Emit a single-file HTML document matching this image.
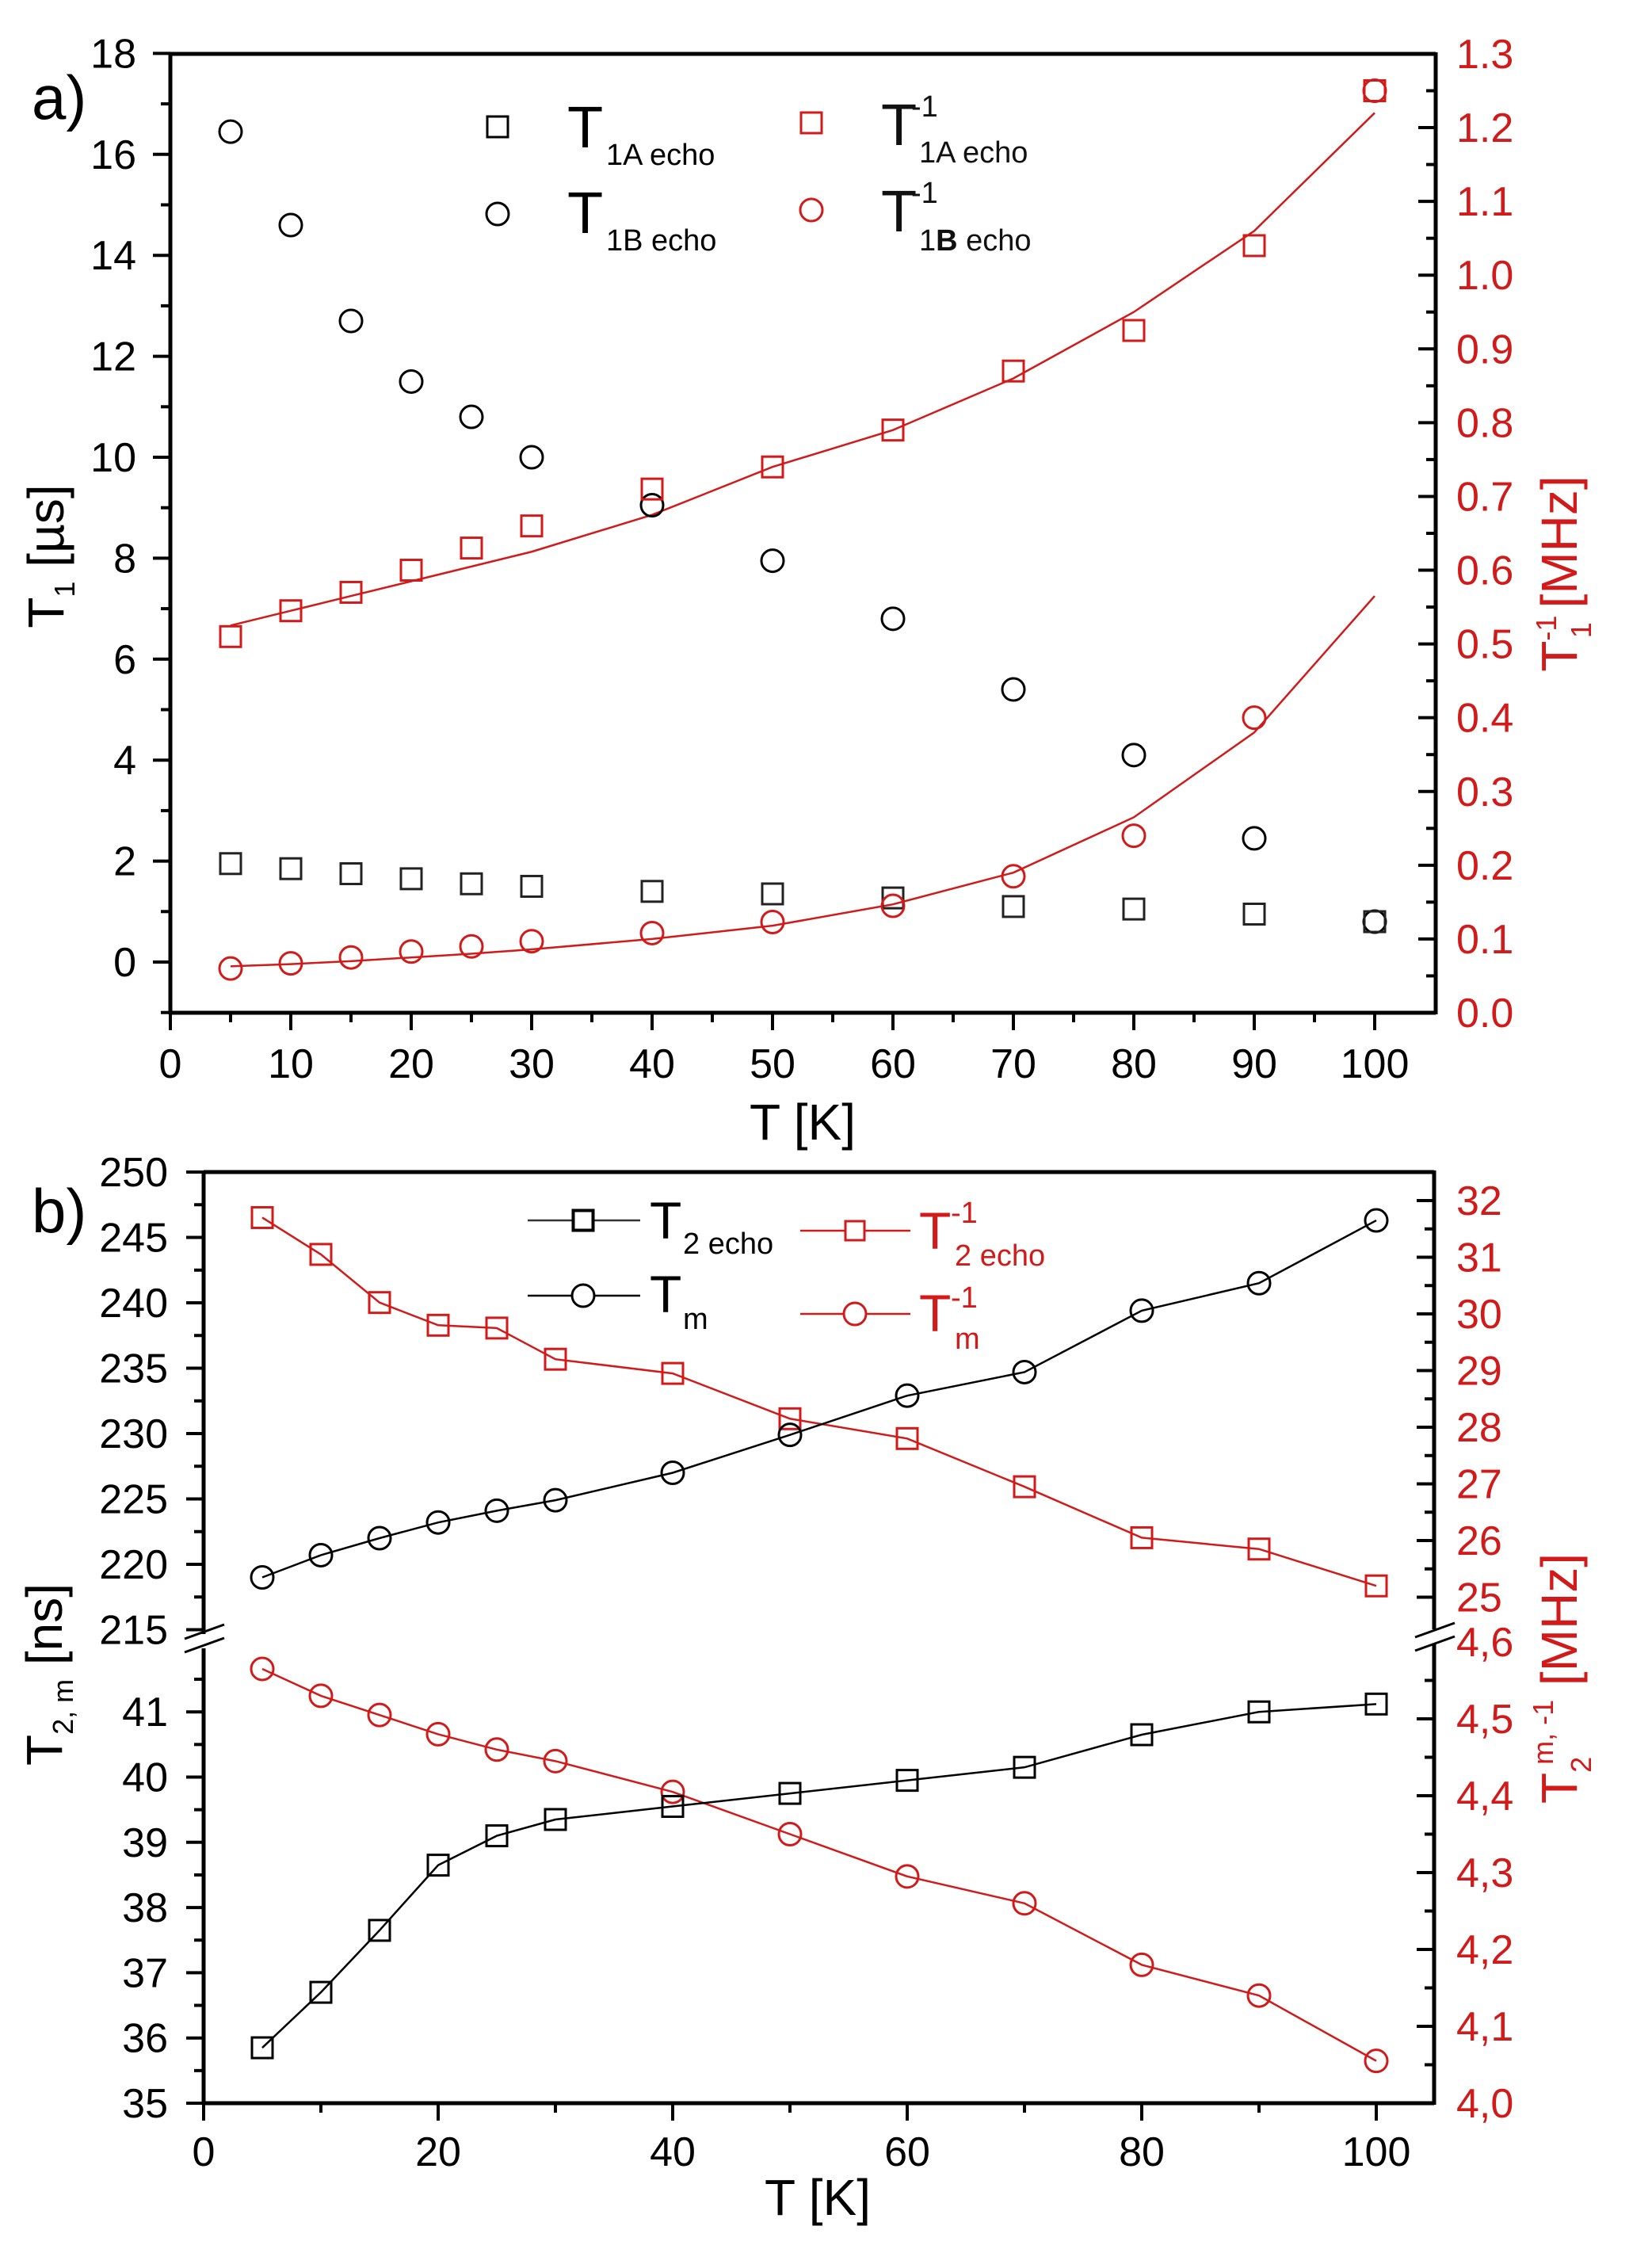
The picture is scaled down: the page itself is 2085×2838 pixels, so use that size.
<!DOCTYPE html>
<html><head><meta charset="utf-8">
<style>
html,body{margin:0;padding:0;background:#fff;}
svg{display:block;}
text{font-family:"Liberation Sans Narrow","Liberation Sans",sans-serif;}
</style></head>
<body>
<svg id="s" xmlns="http://www.w3.org/2000/svg" width="2085" height="2838" viewBox="0 0 2085 2838"></svg>
<script>
const S=document.getElementById('s');let h='';
const R='#d11a1a';
function line(x1,y1,x2,y2,c,w){h+=`<line x1="${x1}" y1="${y1}" x2="${x2}" y2="${y2}" stroke="${c}" stroke-width="${w}"/>`;}
function txt(x,y,t,sz,c,anc,extra){h+=`<text x="${x}" y="${y}" font-size="${sz}" fill="${c}" text-anchor="${anc||'start'}" ${extra||''}>${t}</text>`;}
function sq(x,y,c){h+=`<rect x="${x-13}" y="${y-13}" width="26" height="26" fill="none" stroke="${c}" stroke-width="3"/>`;}
function ci(x,y,c){h+=`<circle cx="${x}" cy="${y}" r="14" fill="none" stroke="${c}" stroke-width="3"/>`;}
function poly(pts,c){h+=`<polyline points="${pts.map(p=>p.join(',')).join(' ')}" fill="none" stroke="${c}" stroke-width="2.5"/>`;}

// ===== Panel a =====
const aL=215,aR=1812,aT=68,aB=1278;
const ax=t=>215+t*15.2;
const ayL=v=>1214-v*63.7;
const ayR=v=>1278-v*930.8;
// frame
line(aL,aT,aR,aT,'#000',5);line(aL,aB,aR,aB,'#000',5);
line(aL,aT-2,aL,aB+2,'#000',5);line(aR,aT-2,aR,aB+2,'#000',5);
// x ticks
for(let t=0;t<=100;t+=5){const x=ax(t);const maj=t%10==0;line(x,aB,x,aB+(maj?22:12),'#000',4);
 if(maj)txt(x,1360,t,52,'#000','middle');}
// left y ticks
for(let v=-1;v<=18;v++){const y=ayL(v);const maj=v%2==0;line(aL-(maj?22:12),y,aL,y,'#000',4);
 if(maj&&v>=0)txt(172,y+18,v,52,'#000','end');}
// right y ticks
for(let i=0;i<=26;i++){const v=i*0.05;const y=ayR(v);const maj=i%2==0;line(aR,y,aR-(maj?22:12),y,'#000',4);
 if(maj)txt(1838,y+18,(v).toFixed(1),52,R,'start');}
txt(40,150,'a)',78,'#000');
txt(1013,1438,'T [K]',64,'#000','middle');
h+=`<text transform="translate(80,702) rotate(-90)" font-size="64" text-anchor="middle" fill="#000">T<tspan font-size="36" dy="14">1</tspan><tspan dy="-14"> [µs]</tspan></text>`;
h+=`<text transform="translate(1990,724) rotate(-90)" font-size="64" text-anchor="middle" fill="${R}">T<tspan font-size="36" dy="-26">-1</tspan><tspan font-size="36" dx="-26" dy="44">1</tspan><tspan dy="-18"> [MHz]</tspan></text>`;
const T=[5,10,15,20,25,30,40,50,60,70,80,90,100];
const t1b=[16.45,14.6,12.7,11.5,10.8,10.0,9.05,7.95,6.8,5.4,4.1,2.45,0.8];
const t1a=[1.95,1.85,1.75,1.65,1.55,1.5,1.4,1.35,1.27,1.1,1.05,0.95,0.8];
const r1a=[0.51,0.545,0.57,0.60,0.63,0.66,0.71,0.74,0.79,0.87,0.925,1.04,1.25];
const r1b=[0.06,0.067,0.075,0.083,0.09,0.097,0.108,0.123,0.145,0.185,0.24,0.40,1.25];
const f1a=[0.525,0.545,0.565,0.585,0.605,0.625,0.675,0.74,0.79,0.86,0.95,1.06,1.22];
const f1b=[0.063,0.066,0.070,0.075,0.080,0.086,0.100,0.118,0.147,0.19,0.265,0.38,0.565];
poly(T.map((t,i)=>[ax(t),ayR(f1a[i])]),R);
poly(T.map((t,i)=>[ax(t),ayR(f1b[i])]),R);
T.forEach((t,i)=>{ci(ax(t),ayL(t1b[i]),'#000');sq(ax(t),ayL(t1a[i]),'#222');sq(ax(t),ayR(r1a[i]),R);ci(ax(t),ayR(r1b[i]),R);});
// legend a
sq(628,160,'#000');ci(628,270,'#000');sq(1024,155,R);ci(1024,265,R);
txt(716,186,'T',74,'#000');txt(765,208,'1A echo',38,'#000');
txt(716,294,'T',74,'#000');txt(765,316,'1B echo',38,'#000');
txt(1112,183,'T',74,'#111');txt(1150,147,'-1',38,'#111');txt(1160,205,'1A echo',38,'#111');
txt(1112,292,'T',74,'#111');txt(1150,256,'-1',38,'#111');h+=`<text x="1160" y="316" font-size="38" fill="#111">1<tspan font-weight="bold">B</tspan> echo</text>`;

// ===== Panel b =====
const bL=257,bR=1810,bT=1479,bB=2654,brk1=2062,brk2=2080;
const bx=t=>257+t*14.8;
const yU=v=>1479+(250-v)*16.5;      // upper left
const yLo=v=>2654-(v-35)*82.3;      // lower left
const rU=v=>1515+(32-v)*71.5;       // upper right
const rLo=v=>2654-(v-4)*970;        // lower right
line(bL,bT,bR,bT,'#000',5);line(bL,bB,bR,bB,'#000',5);
line(bL,bT-2,bL,brk1,'#000',5);line(bL,brk2,bL,bB+2,'#000',5);
line(bR,bT-2,bR,brk1-6,'#000',5);line(bR,brk2-6,bR,bB+2,'#000',5);
// break marks
line(233,2068,283,2050,'#000',3);line(233,2085,283,2067,'#000',3);
line(1786,2066,1836,2048,'#000',3);line(1786,2083,1836,2065,'#000',3);
for(let t=0;t<=100;t+=10){const x=bx(t);const maj=t%20==0;line(x,bB,x,bB+(maj?22:12),'#000',4);
 if(maj)txt(x,2733,t,52,'#000','middle');}
for(let v=215;v<=250;v+=2.5){const y=yU(v);const maj=v%5==0;line(bL-(maj?22:12),y,bL,y,'#000',4);
 if(maj)txt(212,y+18,v,52,'#000','end');}
for(let v=35;v<=41.5;v+=0.5){const y=yLo(v);const maj=v%1==0;line(bL-(maj?22:12),y,bL,y,'#000',4);
 if(maj)txt(212,y+18,v,52,'#000','end');}
for(let v=25;v<=32.5;v+=0.5){const y=rU(v);if(y<bT+5)continue;const maj=v%1==0;line(bR,y,bR-(maj?22:12),y,'#000',4);
 if(maj)txt(1838,y+18,v,52,R,'start');}
for(let i=0;i<=12;i++){const v=4+i*0.05;const y=rLo(v);const maj=i%2==0;if(i<12)line(bR,y,bR-(maj?22:12),y,'#000',4);
 if(maj)txt(1838,y+18,v.toFixed(1).replace('.',','),52,R,'start');}
txt(40,1555,'b)',78,'#000');
txt(1032,2795,'T [K]',64,'#000','middle');
h+=`<text transform="translate(78,2113) rotate(-90)" font-size="64" text-anchor="middle" fill="#000">T<tspan font-size="36" dy="14">2, m</tspan><tspan dy="-14"> [ns]</tspan></text>`;
h+=`<text transform="translate(1990,2118) rotate(-90)" font-size="64" text-anchor="middle" fill="${R}">T<tspan font-size="36" dy="18">2</tspan><tspan font-size="36" dx="-10" dy="-48">m, -1</tspan><tspan dy="30"> [MHz]</tspan></text>`;
const tm=[219,220.7,222,223.2,224.1,224.9,227,229.9,232.9,234.7,239.4,241.5,246.3];
const r2e=[31.7,31.05,30.2,29.8,29.75,29.2,28.95,28.15,27.8,26.95,26.05,25.85,25.2];
const t2e=[35.85,36.7,37.65,38.65,39.1,39.35,39.55,39.75,39.95,40.15,40.65,41.0,41.12];
const rtm=[4.565,4.53,4.505,4.48,4.46,4.445,4.405,4.35,4.295,4.26,4.18,4.14,4.055];
poly(T.map((t,i)=>[bx(t),rU(r2e[i])]),R);poly(T.map((t,i)=>[bx(t),rLo(rtm[i])]),R);
poly(T.map((t,i)=>[bx(t),yU(tm[i])]),'#000');poly(T.map((t,i)=>[bx(t),yLo(t2e[i])]),'#000');
T.forEach((t,i)=>{sq(bx(t),rU(r2e[i]),R);ci(bx(t),rLo(rtm[i]),R);ci(bx(t),yU(tm[i]),'#000');sq(bx(t),yLo(t2e[i]),'#000');});
// legend b
line(666,1540,808,1540,'#333',2.5);sq(736,1540,'#000');h+=`<rect x="724" y="1528" width="24" height="24" fill="#fff" stroke="#000" stroke-width="3"/>`;
txt(820,1563,'T',66,'#000');txt(862,1582,'2 echo',38,'#000');
line(666,1635,808,1635,'#000',2.5);h+=`<circle cx="736" cy="1635" r="14" fill="#fff" stroke="#000" stroke-width="3"/>`;
txt(820,1656,'T',66,'#000');txt(862,1677,'m',38,'#000');
line(1010,1553,1149,1553,R,2.5);h+=`<rect x="1067" y="1541" width="24" height="24" fill="#fff" stroke="${R}" stroke-width="3"/>`;
txt(1160,1576,'T',66,R);txt(1200,1543,'-1',38,R);txt(1205,1597,'2 echo',38,R);
line(1010,1658,1149,1658,R,2.5);h+=`<circle cx="1079" cy="1658" r="14" fill="#fff" stroke="${R}" stroke-width="3"/>`;
txt(1160,1680,'T',66,R);txt(1200,1650,'-1',38,R);txt(1205,1702,'m',38,R);
S.innerHTML=h;
</script>
</body></html>
